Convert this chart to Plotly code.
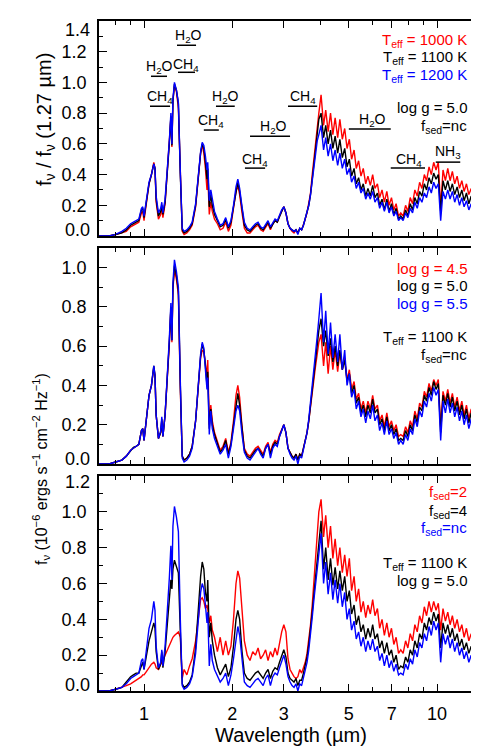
import math
import plotly.graph_objects as go

# ---------------- data ----------------
WL_SMOOTH = [0.70, 0.76, 0.80, 0.84, 0.87, 0.90, 0.92, 0.94, 0.96, 0.98,
             0.99, 1.00, 1.02, 1.04, 1.06, 1.08, 1.09, 1.10, 1.12, 1.14,
             1.15, 1.16, 1.18, 1.20, 1.22, 1.235, 1.245, 1.255, 1.27, 1.29,
             1.31, 1.33, 1.35, 1.37, 1.40, 1.43, 1.46, 1.50, 1.53, 1.56,
             1.58, 1.60, 1.62, 1.64, 1.65, 1.67, 1.69, 1.71, 1.74, 1.78,
             1.82, 1.86, 1.90, 1.94, 1.98, 2.02, 2.06, 2.09, 2.12, 2.16,
             2.20, 2.25, 2.30, 2.35, 2.40, 2.45, 2.50, 2.55, 2.60, 2.65,
             2.70, 2.75, 2.80, 2.85, 2.90, 2.95, 3.00, 3.05, 3.10, 3.15,
             3.20, 3.25, 3.30, 3.35, 3.40, 3.45, 3.50, 3.55, 3.60, 3.65,
             3.70, 3.75, 3.80, 3.85, 3.90]
WL_NOISY = [3.95, 4.02, 4.10, 4.17, 4.25, 4.33, 4.41, 4.49, 4.58, 4.66,
            4.75, 4.84, 4.93, 5.02, 5.11, 5.21, 5.30, 5.40, 5.50, 5.60,
            5.71, 5.81, 5.92, 6.03, 6.14, 6.26, 6.37, 6.49, 6.61, 6.74,
            6.86, 6.99, 7.12, 7.25, 7.39, 7.52, 7.66, 7.81, 7.95, 8.10,
            8.25, 8.40, 8.56, 8.72, 8.88, 9.05, 9.21, 9.39, 9.56, 9.74,
            9.92, 10.10, 10.29, 10.48, 10.68, 10.88, 11.08, 11.28, 11.49, 11.71,
            11.93, 12.15, 12.37, 12.60, 12.84, 13.08, 13.32, 13.57, 13.82, 14.08,
            14.34, 14.60]

# Panel 1: normalized flux, Teff = 1000 / 1100 / 1200 K
P1_T1000 = [0.00, 0.00, 0.01, 0.02, 0.03, 0.06, 0.07, 0.08, 0.09, 0.15,
            0.16, 0.10, 0.23, 0.34, 0.40, 0.48, 0.44, 0.22, 0.11, 0.14,
            0.18, 0.12, 0.21, 0.40, 0.60, 0.77, 0.58, 0.88, 0.98, 0.94,
            0.83, 0.38, 0.03, 0.01, 0.02, 0.04, 0.07, 0.19, 0.38, 0.54,
            0.59, 0.54, 0.44, 0.30, 0.40, 0.14, 0.22, 0.16, 0.11, 0.08,
            0.04, 0.05, 0.09, 0.03, 0.07, 0.17, 0.29, 0.33, 0.27, 0.15,
            0.05, 0.02, 0.02, 0.04, 0.06, 0.07, 0.04, 0.03, 0.06, 0.08,
            0.04, 0.08, 0.10, 0.09, 0.13, 0.16, 0.19, 0.15, 0.08, 0.05,
            0.03, 0.02, 0.04, 0.02, 0.05, 0.04, 0.07, 0.11, 0.15, 0.21,
            0.28, 0.40, 0.51, 0.61, 0.70,
            0.80, 0.92, 0.72, 0.82, 0.68, 0.80, 0.66, 0.77, 0.64, 0.76,
            0.63, 0.70, 0.57, 0.63, 0.50, 0.56, 0.44, 0.49, 0.39, 0.44,
            0.34, 0.39, 0.33, 0.40, 0.31, 0.34, 0.25, 0.30, 0.22, 0.29,
            0.20, 0.25, 0.17, 0.21, 0.13, 0.15, 0.13, 0.20, 0.16, 0.25,
            0.21, 0.30, 0.26, 0.35, 0.31, 0.40, 0.36, 0.45, 0.40, 0.48,
            0.43, 0.48, 0.18, 0.43, 0.36, 0.44, 0.36, 0.42, 0.34, 0.39,
            0.31, 0.36, 0.29, 0.34, 0.27, 0.31, 0.24, 0.29, 0.23, 0.27,
            0.21, 0.25]
P1_T1100 = [0.00, 0.00, 0.01, 0.02, 0.04, 0.07, 0.08, 0.09, 0.10, 0.17,
            0.18, 0.12, 0.24, 0.34, 0.40, 0.47, 0.44, 0.24, 0.13, 0.16,
            0.20, 0.14, 0.22, 0.40, 0.60, 0.78, 0.59, 0.88, 0.99, 0.95,
            0.86, 0.40, 0.04, 0.02, 0.03, 0.05, 0.08, 0.20, 0.38, 0.54,
            0.60, 0.57, 0.48, 0.37, 0.44, 0.19, 0.27, 0.20, 0.14, 0.10,
            0.06, 0.07, 0.11, 0.05, 0.09, 0.19, 0.30, 0.35, 0.29, 0.17,
            0.07, 0.04, 0.03, 0.05, 0.07, 0.08, 0.05, 0.04, 0.07, 0.09,
            0.05, 0.08, 0.10, 0.09, 0.13, 0.16, 0.19, 0.15, 0.08, 0.05,
            0.04, 0.03, 0.04, 0.02, 0.05, 0.04, 0.07, 0.11, 0.15, 0.20,
            0.27, 0.38, 0.48, 0.57, 0.66,
            0.76, 0.80, 0.64, 0.72, 0.60, 0.69, 0.57, 0.65, 0.54, 0.63,
            0.51, 0.57, 0.45, 0.50, 0.39, 0.44, 0.34, 0.38, 0.30, 0.34,
            0.26, 0.31, 0.26, 0.33, 0.25, 0.28, 0.20, 0.24, 0.17, 0.24,
            0.16, 0.21, 0.14, 0.18, 0.11, 0.13, 0.11, 0.17, 0.13, 0.21,
            0.17, 0.25, 0.21, 0.29, 0.26, 0.34, 0.30, 0.38, 0.34, 0.41,
            0.37, 0.40, 0.16, 0.36, 0.30, 0.36, 0.29, 0.34, 0.27, 0.32,
            0.25, 0.30, 0.23, 0.28, 0.21, 0.26, 0.19, 0.24, 0.18, 0.23,
            0.16, 0.21]
P1_T1200 = [0.00, 0.00, 0.01, 0.03, 0.05, 0.08, 0.09, 0.10, 0.11, 0.18,
            0.19, 0.13, 0.25, 0.35, 0.40, 0.47, 0.44, 0.26, 0.15, 0.18,
            0.22, 0.15, 0.24, 0.41, 0.62, 0.80, 0.60, 0.89, 1.00, 0.95,
            0.87, 0.42, 0.05, 0.03, 0.04, 0.06, 0.09, 0.21, 0.39, 0.55,
            0.61, 0.59, 0.52, 0.43, 0.48, 0.23, 0.30, 0.23, 0.16, 0.11,
            0.07, 0.08, 0.12, 0.06, 0.10, 0.20, 0.32, 0.37, 0.31, 0.19,
            0.09, 0.05, 0.04, 0.06, 0.08, 0.09, 0.06, 0.05, 0.08, 0.10,
            0.06, 0.09, 0.11, 0.10, 0.14, 0.17, 0.19, 0.15, 0.08, 0.05,
            0.04, 0.03, 0.04, 0.01, 0.05, 0.04, 0.07, 0.11, 0.15, 0.20,
            0.27, 0.37, 0.46, 0.55, 0.62,
            0.66, 0.72, 0.56, 0.64, 0.52, 0.60, 0.49, 0.56, 0.46, 0.54,
            0.44, 0.50, 0.40, 0.44, 0.35, 0.39, 0.31, 0.35, 0.28, 0.31,
            0.24, 0.28, 0.24, 0.29, 0.22, 0.25, 0.18, 0.22, 0.16, 0.22,
            0.15, 0.19, 0.13, 0.16, 0.10, 0.12, 0.10, 0.15, 0.12, 0.18,
            0.15, 0.22, 0.18, 0.25, 0.22, 0.28, 0.25, 0.32, 0.28, 0.35,
            0.31, 0.34, 0.10, 0.29, 0.24, 0.30, 0.24, 0.29, 0.22, 0.27,
            0.20, 0.25, 0.19, 0.23, 0.17, 0.21, 0.15, 0.19, 0.14, 0.18,
            0.13, 0.16]

# Panel 2: flux, log g = 4.5 / 5.0 / 5.5
P2_G45 = [0.00, 0.00, 0.01, 0.02, 0.04, 0.07, 0.08, 0.09, 0.10, 0.17,
          0.18, 0.12, 0.24, 0.35, 0.40, 0.49, 0.45, 0.25, 0.13, 0.16,
          0.22, 0.14, 0.25, 0.42, 0.61, 0.79, 0.62, 0.89, 0.99, 0.94,
          0.86, 0.38, 0.04, 0.02, 0.03, 0.05, 0.09, 0.22, 0.40, 0.54,
          0.58, 0.57, 0.51, 0.44, 0.53, 0.20, 0.30, 0.22, 0.16, 0.11,
          0.07, 0.09, 0.13, 0.06, 0.11, 0.22, 0.35, 0.40, 0.34, 0.19,
          0.08, 0.05, 0.04, 0.06, 0.08, 0.09, 0.07, 0.05, 0.09, 0.11,
          0.06, 0.10, 0.12, 0.11, 0.15, 0.18, 0.20, 0.16, 0.08, 0.06,
          0.04, 0.03, 0.05, 0.02, 0.05, 0.04, 0.08, 0.12, 0.16, 0.22,
          0.30, 0.37, 0.44, 0.50, 0.56,
          0.62, 0.66, 0.50, 0.62, 0.46, 0.60, 0.48, 0.58, 0.47, 0.57,
          0.48, 0.54, 0.43, 0.48, 0.38, 0.42, 0.33, 0.36, 0.28, 0.32,
          0.26, 0.32, 0.28, 0.35, 0.28, 0.30, 0.22, 0.25, 0.19, 0.26,
          0.19, 0.22, 0.17, 0.20, 0.14, 0.15, 0.14, 0.19, 0.16, 0.22,
          0.19, 0.27, 0.23, 0.31, 0.29, 0.37, 0.34, 0.41, 0.37, 0.43,
          0.40, 0.43, 0.19, 0.37, 0.32, 0.38, 0.31, 0.36, 0.29, 0.34,
          0.27, 0.32, 0.25, 0.30, 0.23, 0.28, 0.22, 0.26, 0.20, 0.25,
          0.19, 0.23]
P2_G50 = [0.00, 0.00, 0.01, 0.02, 0.04, 0.07, 0.085, 0.09, 0.10, 0.17,
          0.18, 0.12, 0.24, 0.35, 0.40, 0.50, 0.45, 0.25, 0.13, 0.16,
          0.23, 0.14, 0.25, 0.42, 0.62, 0.80, 0.63, 0.90, 1.01, 0.96,
          0.88, 0.40, 0.04, 0.02, 0.03, 0.05, 0.09, 0.22, 0.40, 0.55,
          0.61, 0.58, 0.50, 0.40, 0.47, 0.18, 0.28, 0.20, 0.15, 0.10,
          0.06, 0.08, 0.12, 0.05, 0.10, 0.20, 0.31, 0.36, 0.30, 0.17,
          0.07, 0.04, 0.03, 0.05, 0.07, 0.08, 0.06, 0.04, 0.08, 0.10,
          0.05, 0.09, 0.11, 0.10, 0.14, 0.17, 0.20, 0.16, 0.08, 0.06,
          0.04, 0.03, 0.05, 0.02, 0.05, 0.04, 0.08, 0.12, 0.16, 0.22,
          0.30, 0.38, 0.46, 0.53, 0.60,
          0.68, 0.74, 0.60, 0.68, 0.55, 0.64, 0.52, 0.60, 0.50, 0.58,
          0.48, 0.53, 0.42, 0.46, 0.36, 0.40, 0.31, 0.34, 0.26, 0.30,
          0.24, 0.30, 0.26, 0.33, 0.26, 0.28, 0.20, 0.23, 0.17, 0.24,
          0.17, 0.20, 0.15, 0.18, 0.12, 0.13, 0.12, 0.17, 0.14, 0.20,
          0.17, 0.25, 0.21, 0.29, 0.27, 0.35, 0.32, 0.39, 0.35, 0.42,
          0.38, 0.41, 0.16, 0.35, 0.30, 0.36, 0.29, 0.34, 0.27, 0.32,
          0.25, 0.30, 0.23, 0.28, 0.21, 0.26, 0.20, 0.24, 0.18, 0.23,
          0.17, 0.21]
P2_G55 = [0.00, 0.00, 0.01, 0.02, 0.04, 0.07, 0.08, 0.09, 0.10, 0.17,
          0.18, 0.12, 0.24, 0.35, 0.40, 0.50, 0.45, 0.25, 0.13, 0.17,
          0.24, 0.14, 0.25, 0.43, 0.64, 0.82, 0.63, 0.92, 1.04, 0.98,
          0.90, 0.42, 0.03, 0.01, 0.02, 0.04, 0.08, 0.22, 0.41, 0.56,
          0.62, 0.59, 0.48, 0.38, 0.44, 0.15, 0.27, 0.18, 0.13, 0.09,
          0.05, 0.07, 0.10, 0.03, 0.09, 0.18, 0.27, 0.30, 0.27, 0.15,
          0.06, 0.03, 0.02, 0.04, 0.06, 0.08, 0.05, 0.03, 0.08, 0.10,
          0.03, 0.08, 0.10, 0.09, 0.14, 0.17, 0.20, 0.16, 0.08, 0.05,
          0.03, 0.02, 0.04, 0.00, 0.04, 0.03, 0.08, 0.12, 0.16, 0.23,
          0.31, 0.40, 0.49, 0.57, 0.65,
          0.74, 0.87, 0.62, 0.78, 0.56, 0.72, 0.54, 0.66, 0.52, 0.66,
          0.48, 0.58, 0.40, 0.46, 0.34, 0.38, 0.28, 0.32, 0.24, 0.28,
          0.21, 0.27, 0.23, 0.30, 0.22, 0.25, 0.17, 0.21, 0.15, 0.22,
          0.15, 0.18, 0.13, 0.16, 0.10, 0.12, 0.10, 0.15, 0.12, 0.18,
          0.15, 0.23, 0.19, 0.27, 0.24, 0.32, 0.29, 0.36, 0.32, 0.39,
          0.35, 0.38, 0.12, 0.32, 0.26, 0.33, 0.26, 0.31, 0.24, 0.29,
          0.22, 0.27, 0.20, 0.25, 0.18, 0.23, 0.17, 0.21, 0.15, 0.20,
          0.14, 0.18]

# Panel 3: flux, fsed = 2 / 4 / nc
P3_F2 = [0.00, 0.00, 0.01, 0.02, 0.03, 0.04, 0.05, 0.06, 0.07, 0.08,
         0.09, 0.09, 0.11, 0.13, 0.15, 0.16, 0.15, 0.13, 0.12, 0.15,
         0.16, 0.17, 0.20, 0.23, 0.26, 0.28, 0.29, 0.30, 0.31, 0.32,
         0.33, 0.30, 0.07, 0.12, 0.09, 0.14, 0.18, 0.28, 0.40, 0.51,
         0.52, 0.50, 0.46, 0.48, 0.46, 0.38, 0.42, 0.34, 0.30, 0.22,
         0.30, 0.20, 0.28, 0.20, 0.25, 0.40, 0.60, 0.67, 0.63, 0.45,
         0.28, 0.20, 0.17, 0.22, 0.20, 0.24, 0.18, 0.20, 0.23, 0.17,
         0.22, 0.19, 0.24, 0.20, 0.27, 0.33, 0.37, 0.33, 0.18, 0.12,
         0.10, 0.08, 0.07, 0.08, 0.12, 0.10, 0.13, 0.16, 0.21, 0.28,
         0.37, 0.48, 0.60, 0.72, 0.84,
         1.00, 1.07, 0.86, 0.98, 0.80, 0.92, 0.74, 0.85, 0.70, 0.80,
         0.66, 0.76, 0.64, 0.74, 0.56, 0.64, 0.50, 0.57, 0.44, 0.50,
         0.41, 0.48, 0.43, 0.51, 0.42, 0.46, 0.35, 0.40, 0.31, 0.38,
         0.30, 0.35, 0.26, 0.30, 0.21, 0.23, 0.21, 0.28, 0.24, 0.32,
         0.28, 0.37, 0.33, 0.42, 0.38, 0.47, 0.42, 0.50, 0.44, 0.50,
         0.45, 0.49, 0.34, 0.46, 0.39, 0.44, 0.37, 0.42, 0.35, 0.40,
         0.33, 0.37, 0.30, 0.35, 0.28, 0.32, 0.26, 0.30, 0.24, 0.28,
         0.22, 0.26]
P3_F4 = [0.00, 0.00, 0.01, 0.02, 0.05, 0.08, 0.09, 0.10, 0.10, 0.15,
         0.16, 0.12, 0.20, 0.28, 0.33, 0.38, 0.35, 0.22, 0.12, 0.15,
         0.22, 0.13, 0.22, 0.38, 0.55, 0.62, 0.57, 0.68, 0.73, 0.70,
         0.66, 0.33, 0.04, 0.02, 0.03, 0.05, 0.09, 0.24, 0.45, 0.64,
         0.72, 0.68, 0.55, 0.50, 0.62, 0.30, 0.38, 0.28, 0.20, 0.13,
         0.09, 0.12, 0.15, 0.08, 0.13, 0.25, 0.40, 0.45, 0.40, 0.22,
         0.10, 0.07, 0.06, 0.08, 0.10, 0.11, 0.09, 0.07, 0.10, 0.12,
         0.07, 0.11, 0.13, 0.12, 0.16, 0.20, 0.23, 0.19, 0.10, 0.07,
         0.06, 0.05, 0.07, 0.03, 0.06, 0.06, 0.10, 0.14, 0.19, 0.26,
         0.34, 0.44, 0.54, 0.63, 0.71,
         0.82, 0.95, 0.68, 0.80, 0.62, 0.74, 0.59, 0.69, 0.57, 0.67,
         0.56, 0.64, 0.50, 0.56, 0.43, 0.48, 0.37, 0.42, 0.33, 0.37,
         0.29, 0.35, 0.30, 0.37, 0.29, 0.32, 0.24, 0.28, 0.21, 0.27,
         0.20, 0.23, 0.16, 0.20, 0.12, 0.14, 0.13, 0.19, 0.16, 0.23,
         0.20, 0.28, 0.24, 0.32, 0.29, 0.38, 0.34, 0.41, 0.37, 0.44,
         0.39, 0.43, 0.24, 0.38, 0.32, 0.37, 0.30, 0.35, 0.28, 0.32,
         0.25, 0.29, 0.23, 0.27, 0.21, 0.25, 0.19, 0.23, 0.17, 0.21,
         0.15, 0.19]
P3_FNC = [0.00, 0.00, 0.01, 0.02, 0.04, 0.07, 0.08, 0.09, 0.10, 0.17,
          0.18, 0.12, 0.24, 0.35, 0.40, 0.50, 0.45, 0.25, 0.13, 0.16,
          0.23, 0.14, 0.25, 0.43, 0.63, 0.81, 0.62, 0.92, 1.03, 0.97,
          0.89, 0.40, 0.03, 0.01, 0.02, 0.04, 0.08, 0.21, 0.40, 0.55,
          0.60, 0.57, 0.48, 0.38, 0.44, 0.14, 0.26, 0.17, 0.12, 0.08,
          0.05, 0.07, 0.10, 0.03, 0.09, 0.18, 0.30, 0.36, 0.31, 0.16,
          0.05, 0.03, 0.02, 0.04, 0.06, 0.07, 0.05, 0.03, 0.07, 0.09,
          0.03, 0.08, 0.10, 0.09, 0.13, 0.16, 0.20, 0.15, 0.08, 0.05,
          0.03, 0.02, 0.04, 0.00, 0.04, 0.03, 0.07, 0.11, 0.16, 0.23,
          0.31, 0.41, 0.51, 0.60, 0.68,
          0.76, 0.88, 0.60, 0.72, 0.54, 0.66, 0.51, 0.62, 0.49, 0.60,
          0.47, 0.55, 0.40, 0.46, 0.34, 0.39, 0.29, 0.33, 0.25, 0.30,
          0.22, 0.28, 0.23, 0.29, 0.22, 0.25, 0.17, 0.21, 0.14, 0.20,
          0.13, 0.17, 0.11, 0.15, 0.09, 0.10, 0.09, 0.15, 0.12, 0.18,
          0.15, 0.23, 0.19, 0.27, 0.24, 0.32, 0.28, 0.36, 0.31, 0.39,
          0.34, 0.38, 0.16, 0.32, 0.26, 0.31, 0.24, 0.29, 0.22, 0.27,
          0.20, 0.24, 0.18, 0.22, 0.16, 0.20, 0.14, 0.18, 0.13, 0.17,
          0.12, 0.15]

X_TICKS = [1, 2, 3, 5, 7, 10]
X_MINOR = [0.8, 0.9, 4, 6, 8, 9]
Y1_TICKS = [0.0, 0.2, 0.4, 0.6, 0.8, 1.0, 1.2, 1.4]
Y2_TICKS = [0.0, 0.2, 0.4, 0.6, 0.8, 1.0]
Y3_TICKS = [0.0, 0.2, 0.4, 0.6, 0.8, 1.0, 1.2]
RED, BLACK, BLUE = "#ff0000", "#000000", "#0000ff"
FONT = "Liberation Sans, Arial, Helvetica, sans-serif"

WL = WL_SMOOTH + WL_NOISY
for arr in (P1_T1000, P1_T1100, P1_T1200, P2_G45, P2_G50, P2_G55, P3_F2, P3_F4, P3_FNC):
    assert len(arr) == len(WL), len(arr)

# ---------------- figure ----------------
fig = go.Figure()
panels = [
    ("x", "y", [(P1_T1000, RED), (P1_T1100, BLACK), (P1_T1200, BLUE)]),
    ("x2", "y2", [(P2_G45, RED), (P2_G50, BLACK), (P2_G55, BLUE)]),
    ("x3", "y3", [(P3_F2, RED), (P3_F4, BLACK), (P3_FNC, BLUE)]),
]
for xa, ya, series in panels:
    for vals, col in series:
        fig.add_trace(go.Scatter(x=WL, y=vals, xaxis=xa, yaxis=ya, mode="lines",
                                 line=dict(color=col, width=1.4), showlegend=False,
                                 hoverinfo="skip"))

H = 670.0  # plot-area height in px (paper units)
def py(px):
    return (683.0 - px) / H

def xaxis_cfg(anchor, labels):
    return dict(type="log", range=[math.log10(0.702), math.log10(14.35)],
                anchor=anchor, domain=[0, 1], showgrid=False, zeroline=False,
                automargin=False,
                showline=True, linecolor="black", linewidth=1.5, mirror="ticks",
                ticks="inside", ticklen=7, tickwidth=1.2, tickcolor="black",
                tickvals=X_TICKS, ticktext=[str(v) for v in X_TICKS],
                showticklabels=labels, ticklabelstandoff=6,
                tickfont=dict(family=FONT, size=18, color="black"),
                minor=dict(tickvals=X_MINOR, ticks="inside", ticklen=4,
                           tickcolor="black", tickwidth=1.2))

def yaxis_cfg(anchor, dom, top, ticks, hidden):
    # edge labels (hidden) are drawn separately, nudged inward as in the original
    text = ["" if v in hidden else "%.1f" % v for v in ticks]
    return dict(anchor=anchor, domain=dom, range=[0, top], showgrid=False,
                zeroline=False, showline=True, linecolor="black", linewidth=1.5,
                automargin=False,
                mirror="ticks", ticks="inside", ticklen=8, tickwidth=1.2,
                tickcolor="black", tickvals=ticks, ticktext=text,
                ticklabelstandoff=7,
                tickfont=dict(family=FONT, size=18, color="black"),
                minor=dict(dtick=0.1, tick0=0, ticks="inside", ticklen=4,
                           tickcolor="black", tickwidth=1.2))

fig.update_layout(
    width=479, height=750,
    margin=dict(l=91, r=4, t=13, b=67),
    plot_bgcolor="white", paper_bgcolor="white",
    font=dict(family=FONT, color="black"),
    xaxis=xaxis_cfg("y", False),
    xaxis2=xaxis_cfg("y2", False),
    xaxis3=xaxis_cfg("y3", True),
    yaxis=yaxis_cfg("x", [py(228), 1.0], 1.4, Y1_TICKS, [0.0, 1.4]),
    yaxis2=yaxis_cfg("x2", [py(456), py(240)], 1.1, Y2_TICKS, [0.0]),
    yaxis3=yaxis_cfg("x3", [0.0, py(468)], 1.2, Y3_TICKS, [0.0, 1.2]),
)

ann = []
# edge tick labels, shifted inside the panel like the original
XL = (84 - 91) / 384.0
for txt, ypx in [("1.4", 22), ("0.0", 222), ("0.0", 451), ("1.2", 474), ("0.0", 677)]:
    ann.append(dict(text=txt, xref="paper", yref="paper", x=XL, y=py(ypx),
                    xanchor="right", yanchor="middle", showarrow=False,
                    font=dict(family=FONT, size=18, color="black")))

# legend-like labels (right aligned)
XR = (461 - 91) / 384.0
legend_rows = [
    ("T<sub>eff</sub> = 1000 K", RED, 32), ("T<sub>eff</sub> = 1100 K", BLACK, 50),
    ("T<sub>eff</sub> = 1200 K", BLUE, 67), ("log g = 5.0", BLACK, 100),
    ("f<sub>sed</sub>=nc", BLACK, 118),
    ("log g = 4.5", RED, 260), ("log g = 5.0", BLACK, 277), ("log g = 5.5", BLUE, 295),
    ("T<sub>eff</sub> = 1100 K", BLACK, 329), ("f<sub>sed</sub>=nc", BLACK, 347),
    ("f<sub>sed</sub>=2", RED, 485), ("f<sub>sed</sub>=4", BLACK, 503),
    ("f<sub>sed</sub>=nc", BLUE, 520), ("T<sub>eff</sub> = 1100 K", BLACK, 555),
    ("log g = 5.0", BLACK, 572),
]
for txt, col, ypx in legend_rows:
    ann.append(dict(text=txt, xref="paper", yref="paper", x=XR, y=py(ypx),
                    xanchor="right", yanchor="middle", showarrow=False,
                    font=dict(family=FONT, size=15, color=col)))

# molecule band labels in panel 1: (text, x_text, y_text, x0, x1, y_line)
MOL = [
    ("H<sub>2</sub>O", 1.413, 1.30, 1.296, 1.505, 1.242),
    ("H<sub>2</sub>O", 1.13, 1.10, 1.056, 1.198, 1.04),
    ("CH<sub>4</sub>", 1.391, 1.115, 1.306, 1.493, 1.066),
    ("CH<sub>4</sub>", 1.134, 0.905, 1.048, 1.227, 0.845),
    ("H<sub>2</sub>O", 1.89, 0.905, 1.76, 2.04, 0.845),
    ("CH<sub>4</sub>", 1.69, 0.75, 1.60, 1.80, 0.69),
    ("H<sub>2</sub>O", 2.76, 0.71, 2.30, 3.15, 0.65),
    ("CH<sub>4</sub>", 2.39, 0.495, 2.21, 2.59, 0.442),
    ("CH<sub>4</sub>", 3.49, 0.905, 3.10, 3.90, 0.845),
    ("H<sub>2</sub>O", 6.0, 0.755, 5.0, 6.95, 0.696),
    ("CH<sub>4</sub>", 8.0, 0.495, 6.95, 9.1, 0.442),
    ("NH<sub>3</sub>", 10.9, 0.545, 9.9, 12.0, 0.481),
]
shapes = []
for txt, xt, yt, x0, x1, yl in MOL:
    ann.append(dict(text=txt, xref="x", yref="y", x=math.log10(xt), y=yt,
                    xanchor="center", yanchor="middle", showarrow=False,
                    font=dict(family=FONT, size=14, color="black")))
    shapes.append(dict(type="line", xref="x", yref="y", x0=x0, x1=x1, y0=yl, y1=yl,
                       line=dict(color="black", width=1.5)))

# axis titles
ann.append(dict(text="f<sub>ν</sub> / f<sub>ν</sub> (1.27 µm)", xref="paper", yref="paper",
                x=(37 - 91) / 384.0, y=py(112), textangle=-90, showarrow=False,
                xanchor="center", yanchor="middle",
                font=dict(family=FONT, size=20, color="black")))
ann.append(dict(text="f<sub>ν</sub> (10<sup>−6</sup> ergs s<sup>−1</sup> cm<sup>−2</sup> Hz<sup>−1</sup>)",
                xref="paper", yref="paper", x=(33 - 91) / 384.0, y=py(461),
                textangle=-90, showarrow=False, xanchor="center", yanchor="middle",
                font=dict(family=FONT, size=16, color="black")))
ann.append(dict(text="Wavelength (µm)", xref="paper", yref="paper", x=0.5, y=py(727),
                showarrow=False, xanchor="center", yanchor="middle",
                font=dict(family=FONT, size=20, color="black")))

fig.update_layout(annotations=ann, shapes=shapes)
fig.write_html("out.html")
